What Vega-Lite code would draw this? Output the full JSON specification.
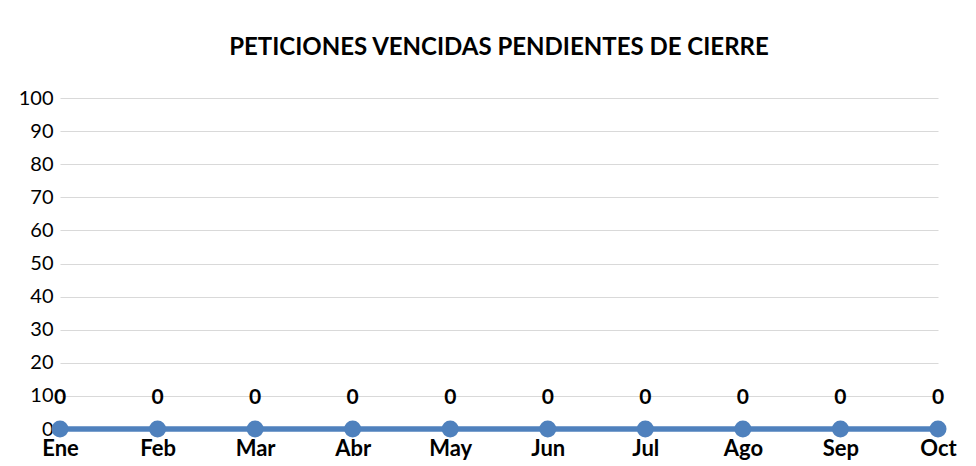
{
  "$schema": "https://vega.github.io/schema/vega-lite/v6.json",
  "autosize": "none",
  "width": 878,
  "height": 331,
  "padding": {"left": 60, "top": 98, "right": 38, "bottom": 37},
  "background": "white",
  "config": {
    "font": "Lato",
    "view": {"stroke": null},
    "axis": {"labelFont": "Lato", "labelColor": "#000000"}
  },
  "title": {
    "text": "PETICIONES VENCIDAS PENDIENTES DE CIERRE",
    "font": "Lato",
    "fontSize": 24,
    "fontWeight": "bold",
    "color": "#000000",
    "anchor": "middle",
    "offset": 28
  },
  "data": {
    "values": [
      {"mes": "Ene", "valor": 0},
      {"mes": "Feb", "valor": 0},
      {"mes": "Mar", "valor": 0},
      {"mes": "Abr", "valor": 0},
      {"mes": "May", "valor": 0},
      {"mes": "Jun", "valor": 0},
      {"mes": "Jul", "valor": 0},
      {"mes": "Ago", "valor": 0},
      {"mes": "Sep", "valor": 0},
      {"mes": "Oct", "valor": 0}
    ]
  },
  "encoding": {
    "x": {
      "field": "mes",
      "type": "ordinal",
      "sort": null,
      "scale": {"type": "point", "padding": 0},
      "axis": {
        "title": null,
        "labelAngle": 0,
        "labelFontSize": 22,
        "labelFontWeight": "bold",
        "labelPadding": 9,
        "ticks": false,
        "domain": false,
        "grid": false
      }
    },
    "y": {
      "field": "valor",
      "type": "quantitative",
      "scale": {"domain": [0, 100], "nice": false},
      "axis": {
        "title": null,
        "values": [0, 10, 20, 30, 40, 50, 60, 70, 80, 90, 100],
        "labelFontSize": 20,
        "labelPadding": 7,
        "ticks": false,
        "domain": false,
        "gridColor": "#d9d9d9",
        "gridWidth": 1
      }
    }
  },
  "layer": [
    {
      "mark": {"type": "line", "color": "#4f81bd", "strokeWidth": 5.5}
    },
    {
      "mark": {"type": "point", "filled": true, "color": "#4f81bd", "opacity": 1, "size": 290}
    },
    {
      "mark": {"type": "text", "fontSize": 21, "fontWeight": "bold", "color": "#000000", "dy": -31, "baseline": "middle"},
      "encoding": {"text": {"field": "valor", "type": "quantitative"}}
    }
  ]
}
